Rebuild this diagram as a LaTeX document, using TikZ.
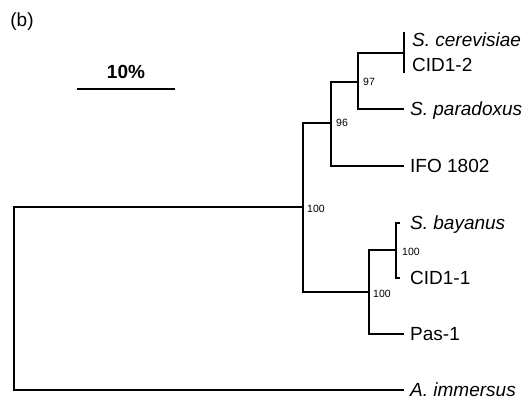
\documentclass[tikz,border=0pt]{standalone}
\usepackage{fontspec}
\setmainfont{Liberation Sans}
\usetikzlibrary{positioning}

\begin{document}
\begin{tikzpicture}[
  x=1pt, y=-1pt,
  %% ramas del arbol
  branch/.style={line width=1.6pt},
  leaf/.style={
    anchor=west, inner xsep=6pt, inner ysep=0pt,
    text height=13.6pt, text depth=0pt,
    font=\fontsize{19}{22}\selectfont
  },
  %% nombres de especie en cursiva
  taxon/.style={leaf, font=\fontsize{19}{22}\selectfont\itshape},
  boot/.style={
    anchor=west, inner sep=0pt,
    text height=7.6pt, text depth=0pt,
    font=\fontsize{10.5}{12}\selectfont
  }
]
\useasboundingbox (0,0) rectangle (530,402);

%% ── Etiqueta del panel y escala ────────────────────────────────────────────
\node[font=\fontsize{19}{22}\selectfont] (panel) at (22, 22) {(b)};

\coordinate (barL) at (77, 89);
\coordinate (barR) at (175, 89);
\draw[branch] (barL) --
  node[above=6pt, font=\fontsize{19}{22}\selectfont\bfseries] (barlab) {10\%}
  (barR);

%% ── Nodos internos ─────────────────────────────────────────────────────────
\coordinate (root)  at (14, 298);
\coordinate (n100a) at (303, 207);
\coordinate (n96)   at (331, 123);
\coordinate (n97)   at (358, 82);
\coordinate (ncer)  at (404, 53);
\coordinate (cerTop) at (404, 32);
\coordinate (cerBot) at (404, 73);
\coordinate (n100b) at (369, 292);
\coordinate (nbay)  at (396, 250);

%% ── Hojas ──────────────────────────────────────────────────────────────────
\node[taxon, inner xsep=8pt] (scer)  at (404, 40)  {S. cerevisiae};
\node[leaf, inner xsep=8pt]  (cid12) at (404, 65)  {CID1-2};
\node[taxon] (spar)  at (404, 109) {S. paradoxus};
\node[leaf]  (ifo)   at (404, 166) {IFO 1802};
\node[taxon, inner xsep=10pt] (sbay)  at (400, 223) {S. bayanus};
\node[leaf, inner xsep=10pt]  (cid11) at (400, 278) {CID1-1};
\node[leaf]  (pas)   at (404, 334) {Pas-1};
\node[taxon] (aimm)  at (404, 390) {A. immersus};

%% ── Valores de bootstrap ───────────────────────────────────────────────────
\node[boot, right=4pt of n100a, yshift=-2pt] (b100a) {100};
\node[boot, right=5pt of n96] (b96) {96};
\node[boot, right=5pt of n97] (b97) {97};
\node[boot, right=4pt of n100b, yshift=-2pt] (b100b) {100};
\node[boot, right=6pt of nbay, yshift=-2pt] (b100c) {100};

%% ────────────────── RAMAS ──────────────────────────────────────────────────
\draw[branch] (root) |- (n100a);
\draw[branch] (root) |- (aimm.west);

\draw[branch] (n100a) |- (n96);
\draw[branch] (n100a) |- (n100b);

\draw[branch] (n96) |- (n97);
\draw[branch] (n96) |- (ifo.west);

\draw[branch] (n97) |- (ncer);
\draw[branch] (n97) |- (spar.west);
\draw[branch] (cerTop) -- (cerBot);

\draw[branch] (n100b) |- (nbay);
\draw[branch] (n100b) |- (pas.west);

\draw[branch] (nbay) |- (sbay.west);
\draw[branch] (nbay) |- (cid11.west);

\end{tikzpicture}
\end{document}
